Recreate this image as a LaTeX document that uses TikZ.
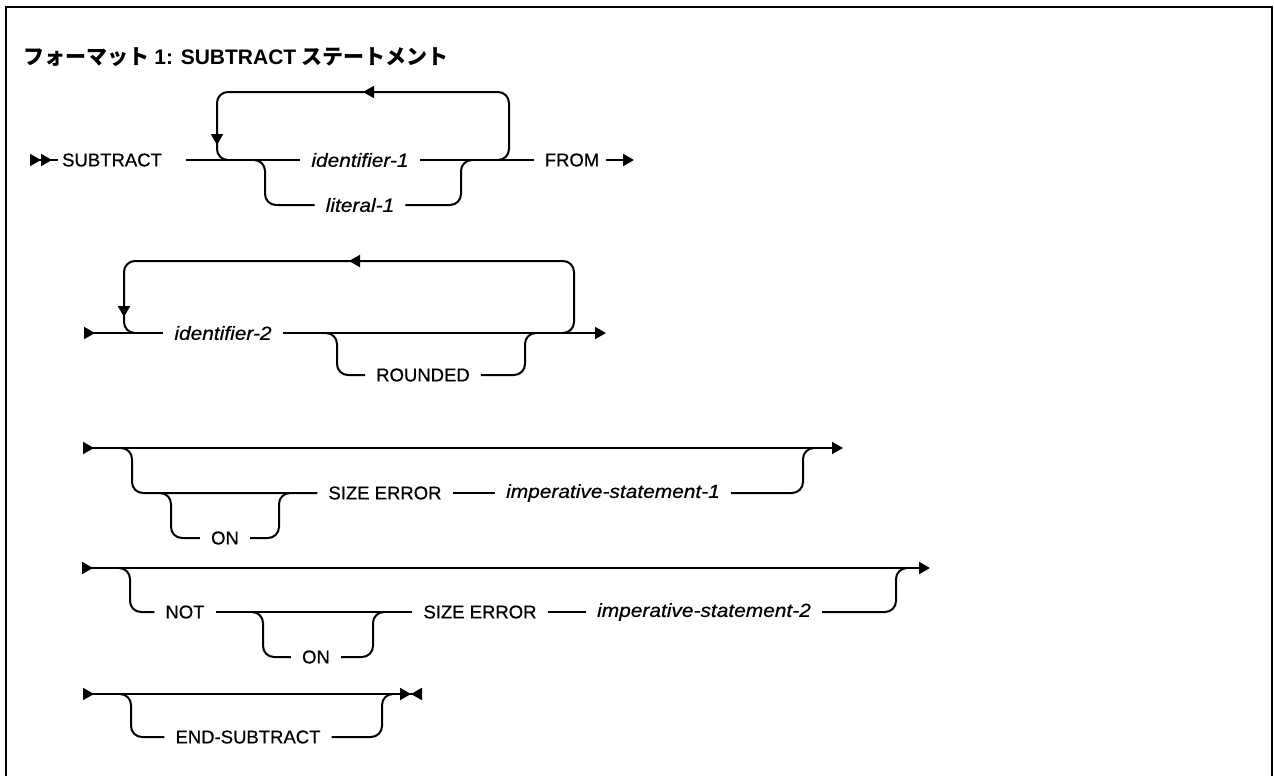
\documentclass[tikz,border=0pt]{standalone}
\usepackage{fontspec}
\setmainfont{Liberation Sans}[UprightFeatures={FakeBold=0.6},ItalicFeatures={FakeBold=0.6,FakeStretch=1.1}]
\newfontfamily\jpfont{Noto Sans CJK JP}
\usetikzlibrary{arrows.meta,positioning}

\begin{document}
\begin{tikzpicture}[x=1pt,y=-1pt,
  font=\fontsize{18.5}{22}\selectfont,
  rail/.style={line width=2pt,rounded corners=11pt},
  kwbox/.style={inner xsep=11pt,inner ysep=2pt},
  varbox/.style={kwbox,font=\fontsize{19}{22}\selectfont\itshape},
  railtip/.style={-{Triangle[length=11pt,width=12pt]}},
  starttip/.style={{Triangle[reversed,length=11pt,width=12pt]}-},
  bothtip/.style={{Triangle[reversed,length=11pt,width=12pt]}-{Triangle[length=11pt,width=12pt]}},
  marktip/.style={line width=2pt,-{Triangle[length=11pt,width=12pt]}}]

  \useasboundingbox (0,0) rectangle (1274,776);
  \clip (0,0) rectangle (1274,776);

  % frame
  \draw[line width=2.5pt] (6,790) -- (6,7) -- (1272,7) -- (1272,790);

  \node[anchor=west,font=\fontsize{21}{26}\selectfont\bfseries] (title) at (20,57)
    {\jpfont フォーマット {\rmfamily 1: SUBTRACT} ステートメント};

  % row 1: SUBTRACT ... FROM
  \coordinate (r1s) at (30,160);
  \node[kwbox,anchor=west,inner xsep=0pt] (sub) at (62,160) {SUBTRACT};
  \coordinate (l1L) at (217,160);
  \coordinate (b1L) at (265,160);
  \node[varbox] (id1) at (360,160) {identifier-1};
  \node[varbox] (lit1) at (360,205) {literal-1};
  \coordinate (b1R) at (461,160);
  \coordinate (l1R) at (509,160);
  \coordinate (l1T) at (363,92);
  \coordinate (l1D) at (217,145);
  \node[kwbox] (from) at (572,160) {FROM};
  \coordinate (r1e) at (634,160);

  \draw[rail,{Triangle[reversed,length=11pt,width=12pt]Triangle[reversed,length=11pt,width=12pt]}-]
    (r1s) -- ([xshift=-4pt]sub.west);
  \draw[rail] ([xshift=24pt]sub.east) -- (id1.west);
  \draw[rail] (id1.east) -- (from.west);
  \draw[rail,railtip] ([xshift=-4pt]from.east) -- (r1e);
  \draw[rail] ([xshift=-11pt]l1R) -| (l1R |- l1T) -| (l1L) -- ([xshift=11pt]l1L);
  \draw[marktip] ([xshift=14pt]l1T) -- (l1T);
  \draw[marktip] ([yshift=14pt]l1D) -- (l1D);
  \draw[rail] ([xshift=-11pt]b1L) -| (b1L |- lit1) -- (lit1.west);
  \draw[rail] (lit1.east) -| (b1R) -- ([xshift=11pt]b1R);

  % row 2: identifier-2 ROUNDED
  \coordinate (r2s) at (84,333);
  \coordinate (l2L) at (124,333);
  \node[varbox] (id2) at (223,333) {identifier-2};
  \coordinate (b2L) at (337,333);
  \node[kwbox] (rnd) at (423,375) {ROUNDED};
  \coordinate (b2R) at (525,333);
  \coordinate (l2R) at (574,333);
  \coordinate (l2T) at (349,261);
  \coordinate (l2D) at (124,317);
  \coordinate (r2e) at (606,333);

  \draw[rail,starttip] (r2s) -- (id2.west);
  \draw[rail,railtip] (id2.east) -- (r2e);
  \draw[rail] ([xshift=-11pt]l2R) -| (l2R |- l2T) -| (l2L) -- ([xshift=11pt]l2L);
  \draw[marktip] ([xshift=14pt]l2T) -- (l2T);
  \draw[marktip] ([yshift=14pt]l2D) -- (l2D);
  \draw[rail] ([xshift=-11pt]b2L) -| (b2L |- rnd) -- (rnd.west);
  \draw[rail] (rnd.east) -| (b2R) -- ([xshift=11pt]b2R);

  % row 3: ON SIZE ERROR imperative-statement-1
  \coordinate (r3s) at (83,448);
  \coordinate (o3L) at (132,448);
  \coordinate (on3L) at (171,493);
  \node[kwbox] (on3) at (225,538) {ON};
  \coordinate (on3R) at (279,493);
  \node[kwbox] (se1) at (385,493) {SIZE ERROR};
  \node[varbox] (imp1) at (613,493) {imperative-statement-1};
  \coordinate (o3R) at (803,448);
  \coordinate (r3e) at (843,448);

  \draw[rail,bothtip] (r3s) -- (r3e);
  \draw[rail] ([xshift=-11pt]o3L) -| (o3L |- se1) -- (se1.west);
  \draw[rail] (se1.east) -- (imp1.west);
  \draw[rail] (imp1.east) -| (o3R) -- ([xshift=11pt]o3R);
  \draw[rail] ([xshift=-11pt]on3L) -| (on3L |- on3) -- (on3.west);
  \draw[rail] (on3.east) -| (on3R) -- ([xshift=11pt]on3R);

  % row 4: NOT ON SIZE ERROR imperative-statement-2
  \coordinate (r4s) at (82,568);
  \coordinate (o4L) at (130,568);
  \node[kwbox] (not) at (185,612) {NOT};
  \coordinate (on4L) at (263,612);
  \node[kwbox] (on4) at (316,657) {ON};
  \coordinate (on4R) at (373,612);
  \node[kwbox] (se2) at (480,612) {SIZE ERROR};
  \node[varbox] (imp2) at (704,612) {imperative-statement-2};
  \coordinate (o4R) at (896,568);
  \coordinate (r4e) at (930,568);

  \draw[rail,bothtip] (r4s) -- (r4e);
  \draw[rail] ([xshift=-11pt]o4L) -| (o4L |- not) -- (not.west);
  \draw[rail] (not.east) -- (se2.west);
  \draw[rail] (se2.east) -- (imp2.west);
  \draw[rail] (imp2.east) -| (o4R) -- ([xshift=11pt]o4R);
  \draw[rail] ([xshift=-11pt]on4L) -| (on4L |- on4) -- (on4.west);
  \draw[rail] (on4.east) -| (on4R) -- ([xshift=11pt]on4R);

  % row 5: END-SUBTRACT
  \coordinate (r5s) at (83,694);
  \coordinate (o5L) at (131,694);
  \node[kwbox] (endsub) at (248,737) {END-SUBTRACT};
  \coordinate (o5R) at (382,694);
  \coordinate (r5e) at (422,694);

  \draw[rail,{Triangle[reversed,length=11pt,width=12pt]}-{Triangle[length=11pt,width=12pt]Triangle[reversed,length=11pt,width=12pt]}]
    (r5s) -- (r5e);
  \draw[rail] ([xshift=-11pt]o5L) -| (o5L |- endsub) -- (endsub.west);
  \draw[rail] (endsub.east) -| (o5R) -- ([xshift=11pt]o5R);

\end{tikzpicture}
\end{document}
